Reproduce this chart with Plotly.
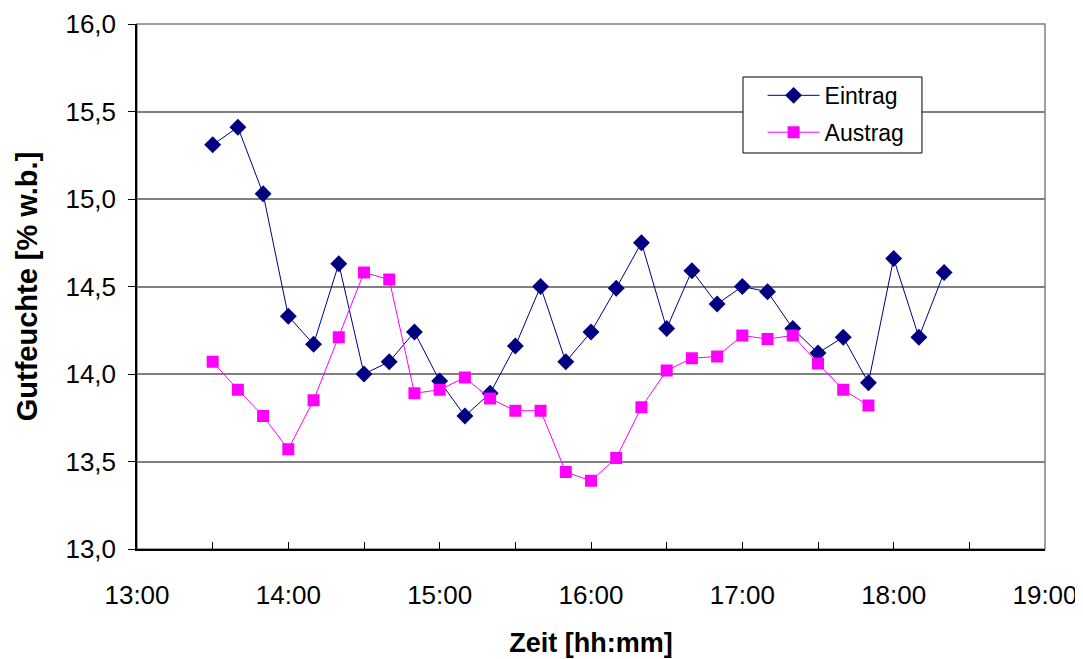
import plotly.graph_objects as go

times_eintrag = ["13:30","13:40","13:50","14:00","14:10","14:20","14:30","14:40","14:50","15:00",
                 "15:10","15:20","15:30","15:40","15:50","16:00","16:10","16:20","16:30","16:40",
                 "16:50","17:00","17:10","17:20","17:30","17:40","17:50","18:00","18:10","18:20"]
eintrag = [15.31,15.41,15.03,14.33,14.17,14.63,14.00,14.07,14.24,13.96,
           13.76,13.89,14.16,14.50,14.07,14.24,14.49,14.75,14.26,14.59,
           14.40,14.50,14.47,14.26,14.12,14.21,13.95,14.66,14.21,14.58]

times_austrag = ["13:30","13:40","13:50","14:00","14:10","14:20","14:30","14:40","14:50","15:00",
                 "15:10","15:20","15:30","15:40","15:50","16:00","16:10","16:20","16:30","16:40",
                 "16:50","17:00","17:10","17:20","17:30","17:40","17:50"]
austrag = [14.07,13.91,13.76,13.57,13.85,14.21,14.58,14.54,13.89,13.91,
           13.98,13.86,13.79,13.79,13.44,13.39,13.52,13.81,14.02,14.09,
           14.10,14.22,14.20,14.22,14.06,13.91,13.82]

x_ticks = ["13:00","13:30","14:00","14:30","15:00","15:30","16:00","16:30","17:00","17:30","18:00","18:30","19:00"]
y_ticks = [13.0,13.5,14.0,14.5,15.0,15.5,16.0]


def to_h(t):
    h, m = t.split(":")
    return int(h) + int(m) / 60.0


xe = [to_h(t) for t in times_eintrag]
xa = [to_h(t) for t in times_austrag]
xtv = [to_h(t) for t in x_ticks]
xtt = [t if t.endswith(":00") else "" for t in x_ticks]

fig = go.Figure()
fig.add_trace(go.Scatter(x=xe, y=eintrag, name="Eintrag", mode="lines+markers", legendgroup="e",
                         line=dict(color="#000080", width=1),
                         marker=dict(symbol="diamond", size=13, color="#000080")))
fig.add_trace(go.Scatter(x=xa, y=austrag, name="Austrag", mode="lines+markers", legendgroup="a",
                         line=dict(color="#FF00FF", width=1),
                         marker=dict(symbol="square", size=12, color="#FF00FF")))

# gray plot-area frame
fig.add_shape(type="rect", xref="paper", yref="paper", x0=0, y0=0, x1=1, y1=1,
              line=dict(color="#808080", width=1.5), layer="below")
# legend box
fig.add_shape(type="rect", xref="paper", yref="paper", x0=0.6674, y0=0.7543, x1=0.8645, y1=0.899,
              line=dict(color="black", width=1), fillcolor="white", layer="above")

fig.update_layout(
    width=1083, height=659,
    margin=dict(l=129, r=46, t=16, b=118),
    paper_bgcolor="white", plot_bgcolor="white",
    font=dict(family="Liberation Sans, Arial, sans-serif", color="black"),
    showlegend=True,
    legend=dict(x=0.689, y=0.905, xanchor="left", yanchor="top",
                borderwidth=0, bgcolor="rgba(0,0,0,0)",
                font=dict(size=23), itemwidth=52, tracegroupgap=4),
    xaxis=dict(range=[13, 19], tickvals=xtv, ticktext=xtt, ticks="inside", ticklen=7,
               tickcolor="black", showline=True, linecolor="black", linewidth=1.5,
               showgrid=False, zeroline=False, tickfont=dict(size=26), automargin=False,
               ticklabelstandoff=22,
               title=dict(text="<b>Zeit [hh:mm]</b>", font=dict(size=27), standoff=24)),
    yaxis=dict(range=[13, 16], tickvals=y_ticks, ticktext=[f"{v:.1f}".replace(".", ",") for v in y_ticks],
               ticks="outside", ticklen=7, tickcolor="black", showline=True, linecolor="black",
               linewidth=1.5, showgrid=True, gridcolor="#808080", gridwidth=1.5, zeroline=False,
               tickfont=dict(size=26), automargin="left", ticklabelstandoff=7,
               title=dict(text="<b>Gutfeuchte [% w.b.]</b>", font=dict(size=29), standoff=19)),
)

fig.write_html("out.html")
